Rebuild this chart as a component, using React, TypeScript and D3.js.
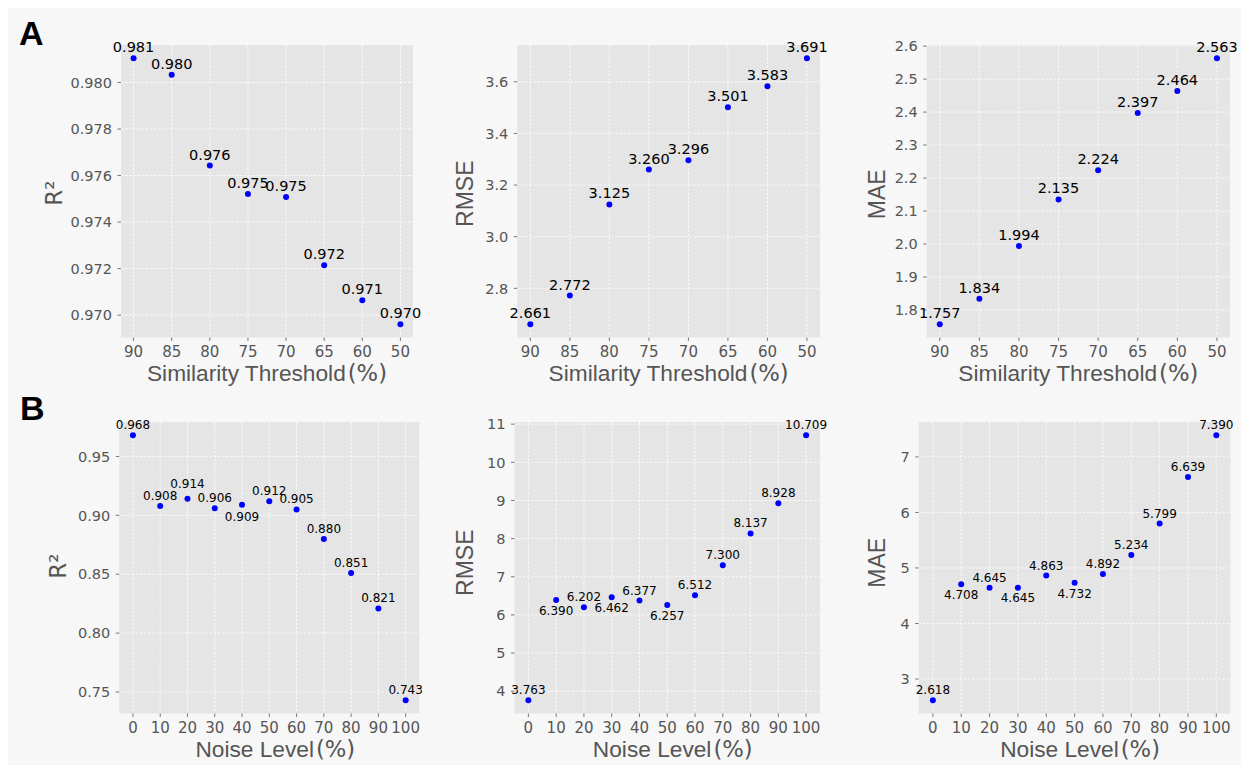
import React from "react";
import * as d3 from "d3";

// ---- data ----
const thresholdCats = ["90", "85", "80", "75", "70", "65", "60", "50"];
const r2Threshold = [0.98104, 0.98033, 0.97643, 0.97521, 0.97508, 0.97214, 0.97064, 0.96961];
const rmseThreshold = [2.661, 2.772, 3.125, 3.26, 3.296, 3.501, 3.583, 3.691];
const maeThreshold = [1.757, 1.834, 1.994, 2.135, 2.224, 2.397, 2.464, 2.563];

const noiseLevels = [0, 10, 20, 30, 40, 50, 60, 70, 80, 90, 100];
const r2Noise = [0.968, 0.908, 0.914, 0.906, 0.909, 0.912, 0.905, 0.88, 0.851, 0.821, 0.743];
const rmseNoise = [3.763, 6.39, 6.202, 6.462, 6.377, 6.257, 6.512, 7.3, 8.137, 8.928, 10.709];
const maeNoise = [2.618, 4.708, 4.645, 4.645, 4.863, 4.732, 4.892, 5.234, 5.799, 6.639, 7.39];

// label placement: indexes whose value label sits below the point / raised higher
const r2NoiseBelow = [4];
const r2NoiseRaised = [2];
const rmseNoiseBelow = [1, 3, 5];
const maeNoiseBelow = [1, 3, 5];

const r2ThresholdTicks = [0.97, 0.972, 0.974, 0.976, 0.978, 0.98];
const rmseThresholdTicks = [2.8, 3.0, 3.2, 3.4, 3.6];
const maeThresholdTicks = [1.8, 1.9, 2.0, 2.1, 2.2, 2.3, 2.4, 2.5, 2.6];
const r2NoiseTicks = [0.75, 0.8, 0.85, 0.9, 0.95];
const rmseNoiseTicks = [4, 5, 6, 7, 8, 9, 10, 11];
const maeNoiseTicks = [3, 4, 5, 6, 7];

const TICK_FONT = "'DejaVu Sans', sans-serif";
const LABEL_FONT = "'Liberation Sans', Arial, sans-serif";
const GRAY = "#555555";

type Panel = {
  left: number; right: number; top: number; bottom: number;
  cat: boolean;
  values: number[];
  yTicks: number[];
  yFmt: (v: number) => string;
  ylabel: string;
  ylabelOff: number;
  ylabelDy: number;
  xlabelMain: string;
  xlabelDx: number;
  labelSize: number;
  below: number[];
  raised: number[];
  belowOff: number;
};

function PanelView({ p }: { p: Panel }) {
  const ext = d3.extent(p.values) as [number, number];
  const pad = (ext[1] - ext[0]) * 0.05;
  const y = d3.scaleLinear().domain([ext[0] - pad, ext[1] + pad]).range([p.bottom, p.top]);
  let xs: number[];
  let xTicks: { pos: number; label: string }[];
  if (p.cat) {
    const x = d3.scalePoint<string>().domain(thresholdCats).range([p.left, p.right]).padding(0.33);
    xs = thresholdCats.map((c) => x(c) as number);
    xTicks = thresholdCats.map((c) => ({ pos: x(c) as number, label: c }));
  } else {
    const x = d3.scaleLinear().domain([-5, 105]).range([p.left, p.right]);
    xs = noiseLevels.map((v) => x(v));
    xTicks = noiseLevels.map((v) => ({ pos: x(v), label: String(v) }));
  }
  const cx = (p.left + p.right) / 2;
  const cy = (p.top + p.bottom) / 2 + p.ylabelDy;
  const yLabX = p.left - p.ylabelOff;
  return (
    <g>
      <rect x={p.left} y={p.top} width={p.right - p.left} height={p.bottom - p.top} fill="#e5e5e5" />
      {xTicks.map((t, i) => (
        <line key={"gx" + i} x1={t.pos} x2={t.pos} y1={p.top} y2={p.bottom} stroke="#ffffff" strokeWidth={0.8} strokeDasharray="2.5,1.6" />
      ))}
      {p.yTicks.map((t, i) => (
        <line key={"gy" + i} x1={p.left} x2={p.right} y1={y(t)} y2={y(t)} stroke="#ffffff" strokeWidth={0.8} strokeDasharray="2.5,1.6" />
      ))}
      {xTicks.map((t, i) => (
        <g key={"tx" + i}>
          <line x1={t.pos} x2={t.pos} y1={p.bottom} y2={p.bottom + 3.5} stroke={GRAY} strokeWidth={0.8} />
          <text x={t.pos} y={p.bottom + 19} textAnchor="middle" fontFamily={TICK_FONT} fontSize={15} fill={GRAY}>{t.label}</text>
        </g>
      ))}
      {p.yTicks.map((t, i) => (
        <g key={"ty" + i}>
          <line x1={p.left - 3.5} x2={p.left} y1={y(t)} y2={y(t)} stroke={GRAY} strokeWidth={0.8} />
          <text x={p.left - 9} y={y(t)} dy="0.36em" textAnchor="end" fontFamily={TICK_FONT} fontSize={14.5} fill={GRAY}>{p.yFmt(t)}</text>
        </g>
      ))}
      {p.values.map((v, i) => (
        <circle key={"c" + i} cx={xs[i]} cy={y(v)} r={3} fill="#0000ff" />
      ))}
      {p.values.map((v, i) => {
        const below = p.below.includes(i);
        const raised = p.raised.includes(i);
        const ly = below ? y(v) + p.belowOff : y(v) - (raised ? 11.3 : 6);
        return (
          <text key={"l" + i} x={xs[i]} y={ly} textAnchor="middle" fontFamily={TICK_FONT} fontSize={p.labelSize} fill="#000000">
            {v.toFixed(3)}
          </text>
        );
      })}
      <text x={cx + p.xlabelDx} y={p.bottom + 43} textAnchor="middle" fontSize={22.7} fill={GRAY}>
        <tspan fontFamily={LABEL_FONT}>{p.xlabelMain}</tspan>
        <tspan fontFamily={TICK_FONT} dx={2}>(%)</tspan>
      </text>
      <text transform={`translate(${yLabX},${cy}) rotate(-90)`} textAnchor="middle" fontSize={23} fill={GRAY}
        fontFamily={p.ylabel === "R²" ? TICK_FONT : LABEL_FONT}>
        {p.ylabel}
      </text>
    </g>
  );
}

const f3 = (v: number) => v.toFixed(3);
const f2 = (v: number) => v.toFixed(2);
const f1 = (v: number) => v.toFixed(1);
const f0 = (v: number) => String(v);

const panels: Panel[] = [
  { left: 121, right: 413, top: 45, bottom: 337.5, cat: true, values: r2Threshold, yTicks: r2ThresholdTicks, yFmt: f3, ylabel: "R²", ylabelOff: 59.3, ylabelDy: 2, xlabelMain: "Similarity Threshold", xlabelDx: 0, labelSize: 14.5, below: [], raised: [], belowOff: 15 },
  { left: 517.3, right: 820, top: 45, bottom: 337.5, cat: true, values: rmseThreshold, yTicks: rmseThresholdTicks, yFmt: f1, ylabel: "RMSE", ylabelOff: 44, ylabelDy: 2.5, xlabelMain: "Similarity Threshold", xlabelDx: 0, labelSize: 14.5, below: [], raised: [], belowOff: 15 },
  { left: 926.7, right: 1230, top: 45, bottom: 337.5, cat: true, values: maeThreshold, yTicks: maeThresholdTicks, yFmt: f1, ylabel: "MAE", ylabelOff: 41.7, ylabelDy: 3, xlabelMain: "Similarity Threshold", xlabelDx: 0, labelSize: 14.5, below: [], raised: [], belowOff: 15 },
  { left: 119.3, right: 419.3, top: 422, bottom: 713.5, cat: false, values: r2Noise, yTicks: r2NoiseTicks, yFmt: f2, ylabel: "R²", ylabelOff: 53.8, ylabelDy: -1.5, xlabelMain: "Noise Level", xlabelDx: 6, labelSize: 12, below: r2NoiseBelow, raised: r2NoiseRaised, belowOff: 16.5 },
  { left: 514.5, right: 820, top: 422, bottom: 713.5, cat: false, values: rmseNoise, yTicks: rmseNoiseTicks, yFmt: f0, ylabel: "RMSE", ylabelOff: 41.2, ylabelDy: -5, xlabelMain: "Noise Level", xlabelDx: 5.5, labelSize: 12, below: rmseNoiseBelow, raised: [], belowOff: 14.7 },
  { left: 918.7, right: 1230.5, top: 422, bottom: 713.5, cat: false, values: maeNoise, yTicks: maeNoiseTicks, yFmt: f0, ylabel: "MAE", ylabelOff: 33.7, ylabelDy: -5, xlabelMain: "Noise Level", xlabelDx: 5.5, labelSize: 12, below: maeNoiseBelow, raised: [], belowOff: 14.7 },
];

export default function App() {
  return (
    <svg width={1241} height={757} style={{ display: "block" }}>
      <g transform="translate(-8,-8)">
        <rect x={8} y={8} width={1241} height={757} fill="#f7f7f7" />
        <text x={19} y={45} fontFamily={LABEL_FONT} fontWeight="bold" fontSize={34} fill="#000">A</text>
        <text x={20} y={420} fontFamily={LABEL_FONT} fontWeight="bold" fontSize={34} fill="#000">B</text>
        {panels.map((p, i) => (
          <PanelView key={i} p={p} />
        ))}
      </g>
    </svg>
  );
}
